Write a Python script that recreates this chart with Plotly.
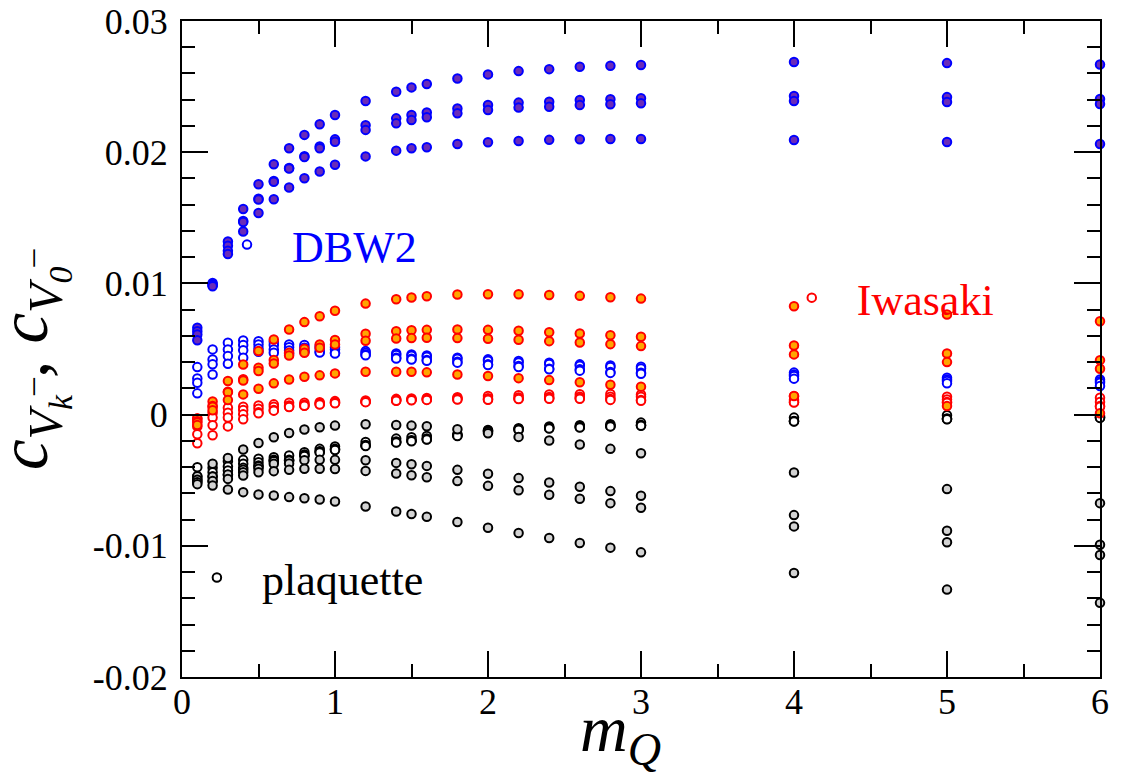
import plotly.graph_objects as go

# heavy-quark mass values shared by every series
M_Q = [0.1, 0.2, 0.3, 0.4, 0.5, 0.6, 0.7, 0.8, 0.9, 1.0,
       1.2, 1.4, 1.5, 1.6, 1.8, 2.0, 2.2, 2.4, 2.6, 2.8, 3.0,
       4.0, 5.0, 6.0]

# ---- plaquette gauge action ----
plaq_filled_1 = [-0.0047, -0.00375, -0.0033, -0.00266, -0.00216, -0.00173, -0.0014, -0.00114, -0.00097, -0.00084,
                 -0.00074, -0.00079, -0.00084, -0.00089, -0.00112, -0.00142, -0.0017, -0.00198, -0.00228, -0.00261,
                 -0.00294, -0.00441, -0.00568, -0.00675]
plaq_filled_2 = [-0.00497, -0.00472, -0.00457, -0.00439, -0.00413, -0.00375, -0.00372, -0.00348, -0.00345, -0.00345,
                 -0.00348, -0.00368, -0.00378, -0.00391, -0.00421, -0.00451, -0.00484, -0.00517, -0.0055, -0.00583,
                 -0.00619, -0.00766, -0.00885, -0.00992]
plaq_filled_3 = [-0.00515, -0.00507, -0.0049, -0.00464, -0.00439, -0.00431, -0.00421, -0.00413, -0.00413, -0.00414,
                 -0.00429, -0.00449, -0.00462, -0.00477, -0.00507, -0.00543, -0.00576, -0.00611, -0.00642, -0.00675,
                 -0.0071, -0.00852, -0.00973, -0.0107]
plaq_filled_4 = [-0.0053, -0.0054, -0.00571, -0.00591, -0.00609, -0.00616, -0.00629, -0.00637, -0.00647, -0.00662,
                 -0.0070, -0.00738, -0.00758, -0.00778, -0.00819, -0.00862, -0.00903, -0.00941, -0.00979, -0.01014,
                 -0.0105, -0.01207, -0.01334, -0.01435]
plaq_open_1 = [-0.00401, -0.00406, -0.00355, -0.00345, -0.00337, -0.00325, -0.00312, -0.00287, -0.00261, -0.00243,
               -0.00208, -0.00183, -0.00173, -0.00163, -0.0015, -0.00117, -0.00104, -0.00091, -0.00081, -0.00074,
               -0.00061, -0.00023, -0.00005, -0.0001]
plaq_open_2 = [-0.00472, -0.00439, -0.00396, -0.00375, -0.00363, -0.00345, -0.00345, -0.00305, -0.00279, -0.00261,
               -0.00231, -0.00205, -0.00196, -0.00183, -0.00155, -0.00122, -0.0011, -0.001, -0.00092, -0.00085,
               -0.00079, -0.00048, -0.0003, -0.0002]
plaq_open_3 = [-0.0049, -0.00472, -0.00426, -0.00406, -0.00388, -0.0035, -0.0035, -0.0031, -0.00284, -0.00266,
               -0.00236, -0.0021, -0.002, -0.00188, -0.0016, -0.00127, -0.00113, -0.00103, -0.00095, -0.00088,
               -0.00082, -0.0005, -0.00033, -0.00022]
plaq_open_4 = [-0.0051, -0.00507, -0.0046, -0.0042, -0.00395, -0.00355, -0.00352, -0.00315, -0.00288, -0.0027,
               -0.0024, -0.00213, -0.00203, -0.0019, -0.00163, -0.0013, -0.00116, -0.00106, -0.00098, -0.0009,
               -0.00085, -0.00052, -0.00035, -0.00025]

# ---- DBW2 gauge action ----
dbw2_filled_1 = [0.00662, 0.01004, 0.0132, 0.01567, 0.01756, 0.01908, 0.0203, 0.02132, 0.02213, 0.02284,
                 0.0239, 0.02461, 0.02494, 0.0252, 0.02562, 0.02593, 0.02618, 0.02633, 0.02651, 0.02659,
                 0.02664, 0.02687, 0.02679, 0.02668]
dbw2_filled_2 = [0.00636, 0.0099, 0.01287, 0.01475, 0.01645, 0.0178, 0.0188, 0.0197, 0.02043, 0.02098,
                 0.02205, 0.02258, 0.02284, 0.02302, 0.02334, 0.0236, 0.02378, 0.02385, 0.02398, 0.02403,
                 0.02411, 0.02428, 0.0242, 0.02405]
dbw2_filled_3 = [0.00611, 0.0099, 0.01248, 0.01468, 0.0164, 0.01774, 0.01876, 0.01964, 0.0203, 0.0208,
                 0.0217, 0.0222, 0.02246, 0.02266, 0.02296, 0.02322, 0.0234, 0.02347, 0.0236, 0.02365,
                 0.02373, 0.0239, 0.02383, 0.02367]
dbw2_filled_4 = [0.00567, 0.00978, 0.01224, 0.01396, 0.01536, 0.01642, 0.01731, 0.01802, 0.01853, 0.01904,
                 0.01968, 0.02012, 0.0203, 0.02038, 0.02063, 0.02076, 0.02086, 0.02094, 0.02099, 0.02101,
                 0.02101, 0.02093, 0.02078, 0.02063]
dbw2_open_1 = [0.00362, 0.00497, 0.00547, 0.00565, 0.0056, 0.00555, 0.00535, 0.0053, 0.00522, 0.00514,
               0.00484, 0.00466, 0.00459, 0.00451, 0.00434, 0.00421, 0.00408, 0.00396, 0.00383, 0.00375,
               0.00365, 0.0032, 0.00281, 0.00268]
dbw2_open_2 = [0.00276, 0.0042, 0.00497, 0.0053, 0.00535, 0.0053, 0.00514, 0.0051, 0.00504, 0.00497,
               0.00472, 0.00455, 0.00448, 0.0044, 0.00425, 0.0041, 0.00398, 0.00385, 0.00372, 0.00362,
               0.00352, 0.00305, 0.00268, 0.00255]
dbw2_open_3 = [0.00243, 0.00383, 0.00446, 0.0049, 0.00504, 0.00497, 0.00489, 0.00484, 0.00479, 0.00471,
               0.00459, 0.00434, 0.00426, 0.00416, 0.00403, 0.00383, 0.0037, 0.0035, 0.00345, 0.00324,
               0.00319, 0.00294, 0.00256, 0.00243]
dbw2_open_4 = [0.00162, 0.00306, 0.00388, 0.00433, 0.00479, 0.00471, 0.00464, 0.00478, 0.00473, 0.00466,
               0.00452, 0.00428, 0.0042, 0.0041, 0.00396, 0.00378, 0.00362, 0.00345, 0.00335, 0.00318,
               0.00312, 0.00274, 0.00238, 0.00218]

# ---- Iwasaki gauge action ----
iwa_filled_1 = [-0.0003, 0.001, 0.00256, 0.00382, 0.00484, 0.00573, 0.00649, 0.00705, 0.0075, 0.00791,
                0.00846, 0.00879, 0.00892, 0.00902, 0.00915, 0.00917, 0.00917, 0.00912, 0.00905, 0.00894,
                0.00884, 0.00826, 0.00763, 0.00712]
iwa_filled_2 = [-0.0005, 0.00066, 0.00175, 0.0027, 0.00357, 0.00416, 0.00471, 0.00502, 0.00535, 0.00568,
                0.00616, 0.00636, 0.00643, 0.00646, 0.00649, 0.00646, 0.00639, 0.00628, 0.00618, 0.00605,
                0.00593, 0.00527, 0.00466, 0.00415]
iwa_filled_3 = [-0.0006, 0.0006, 0.0017, 0.0026, 0.00332, 0.0039, 0.0045, 0.00471, 0.00509, 0.00535,
                0.00563, 0.0058, 0.00583, 0.00586, 0.00583, 0.00578, 0.0057, 0.0056, 0.0055, 0.00537,
                0.00522, 0.00459, 0.004, 0.0035]
iwa_filled_4 = [-0.0008, 0.00033, 0.00111, 0.00154, 0.00197, 0.00238, 0.00268, 0.00288, 0.00299, 0.00314,
                0.00327, 0.00327, 0.00327, 0.00322, 0.00306, 0.00294, 0.00278, 0.00263, 0.00246, 0.00228,
                0.00213, 0.00142, 0.00065, 0.0001]
iwa_open_1 = [-0.0003, 0.00015, 0.00053, 0.0006, 0.0007, 0.00078, 0.00091, 0.00091, 0.00095, 0.00103,
              0.00108, 0.0012, 0.00123, 0.00126, 0.00132, 0.00142, 0.00147, 0.00154, 0.00155, 0.00157,
              0.00154, 0.0014, 0.00137, 0.00129]
iwa_open_2 = [-0.0009, -0.00023, 0.00015, 0.00035, 0.00045, 0.0006, 0.0007, 0.00075, 0.00085, 0.00095,
              0.001, 0.00112, 0.00117, 0.0012, 0.00125, 0.00125, 0.0013, 0.00135, 0.00137, 0.00137,
              0.00137, 0.00111, 0.00116, 0.00096]
iwa_open_3 = [-0.0015, -0.00081, -0.00023, 0.00002, 0.00017, 0.00035, 0.0006, 0.0007, 0.0008, 0.0009,
              0.00098, 0.00108, 0.00112, 0.00115, 0.00118, 0.00116, 0.00121, 0.00125, 0.00125, 0.00118,
              0.00111, 0.00096, 0.00096, 0.00065]
iwa_open_4 = [-0.00218, -0.00157, -0.0009, -0.00036, 0.0001, 0.0003, 0.00057, 0.00067, 0.00077, 0.00087,
              0.00095, 0.00105, 0.00109, 0.00112, 0.00115, 0.00113, 0.00118, 0.00121, 0.00121, 0.00112,
              0.00105, 0.00092, 0.0009, 0.0006]

# axis ticks
X_TICKS = [0, 1, 2, 3, 4, 5, 6]
X_TICK_TEXT = ["0", "1", "2", "3", "4", "5", "6"]
Y_TICKS = [-0.02, -0.01, 0.0, 0.01, 0.02, 0.03]
Y_TICK_TEXT = ["-0.02", "-0.01", "0", "0.01", "0.02", "0.03"]

SERIF = "Liberation Serif"

fig = go.Figure()


def add_group(series, edge, fill, legend_id=None, label=None):
    for i, vals in enumerate(series):
        show = legend_id is not None and i == 0
        fig.add_trace(go.Scatter(
            x=M_Q, y=vals, mode="markers",
            name=label if show else "",
            showlegend=show,
            legend=legend_id if legend_id else "legend",
            cliponaxis=False,
            marker=dict(symbol="circle", size=8.5, color=fill,
                        line=dict(color=edge, width=2)),
        ))


add_group([plaq_open_1, plaq_open_2, plaq_open_3, plaq_open_4], "black", "white", "legend", "plaquette")
add_group([plaq_filled_1, plaq_filled_2, plaq_filled_3, plaq_filled_4], "black", "#d3d3d3")
add_group([dbw2_filled_1, dbw2_filled_2, dbw2_filled_3, dbw2_filled_4], "#0000ff", "#6a2bb8")
add_group([dbw2_open_1, dbw2_open_2, dbw2_open_3, dbw2_open_4], "#0000ff", "white", "legend2", "DBW2")
add_group([iwa_open_1, iwa_open_2, iwa_open_3, iwa_open_4], "#ff0000", "white", "legend3", "Iwasaki")
add_group([iwa_filled_1, iwa_filled_2, iwa_filled_3, iwa_filled_4], "#ff0000", "#ffa500")

axis_common = dict(
    showline=True, linecolor="black", linewidth=2, mirror="ticks",
    ticks="inside", ticklen=26, tickwidth=2, tickcolor="black",
    showgrid=False, zeroline=False, automargin=False,
    tickfont=dict(family=SERIF, size=36, color="black"),
    tickmode="array",
)

legend_common = dict(
    bgcolor="rgba(0,0,0,0)", borderwidth=0, itemwidth=80,
    xanchor="left", yanchor="middle",
)

fig.update_layout(
    width=1122, height=783,
    margin=dict(l=182, r=22, t=21, b=106, autoexpand=False),
    paper_bgcolor="white", plot_bgcolor="white",
    font=dict(family=SERIF, color="black"),
    xaxis=dict(range=[0, 6], tickvals=X_TICKS, ticktext=X_TICK_TEXT,
               ticklabelstandoff=-8,
               minor=dict(ticks="inside", ticklen=13, tickwidth=2, tickcolor="black",
                          tickmode="linear", tick0=0, dtick=0.5, showgrid=False),
               **axis_common),
    yaxis=dict(range=[-0.02, 0.03], tickvals=Y_TICKS, ticktext=Y_TICK_TEXT,
               ticklabelstandoff=5,
               minor=dict(ticks="inside", ticklen=13, tickwidth=2, tickcolor="black",
                          tickmode="linear", tick0=0, dtick=0.002, showgrid=False),
               **axis_common),
    legend=dict(x=-0.011, y=0.151, font=dict(family=SERIF, size=44, color="black"), **legend_common),
    legend2=dict(x=0.0218, y=0.6585, font=dict(family=SERIF, size=44, color="#0000ff"), **legend_common),
    legend3=dict(x=0.637, y=0.5777, font=dict(family=SERIF, size=44, color="#ff0000"), **legend_common),
    annotations=[
        dict(text="<i>m</i><sub><i>Q</i></sub>", xref="paper", yref="paper",
             x=0.4314, y=-0.02, xanchor="left", yanchor="top", showarrow=False,
             font=dict(family=SERIF, size=66, color="black")),
        dict(text="<i>c</i><sub><i>V</i><sub><i>k</i></sub><sup>\u2013</sup></sub>, "
                  "<i>c</i><sub><i>V</i><sub><i>0</i></sub><sup>\u2013</sup></sub>",
             xref="paper", yref="paper", x=-0.162, y=0.485, textangle=-90,
             xanchor="center", yanchor="middle", showarrow=False,
             font=dict(family=SERIF, size=69, color="black")),
    ],
)

fig.write_html("out.html")
